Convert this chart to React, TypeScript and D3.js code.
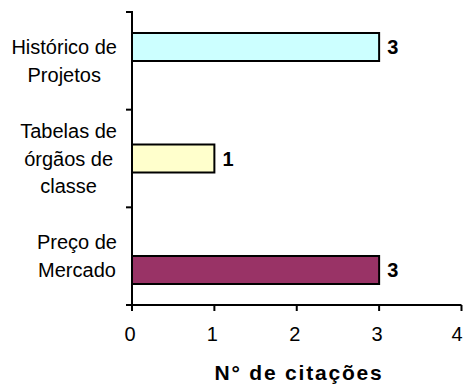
import React, { useEffect, useRef } from "react";
import * as d3 from "d3";

// Categories, top to bottom, each split into its printed lines
const categories: string[][] = [
  ["Histórico de", "Projetos"],
  ["Tabelas de", "órgãos de", "classe"],
  ["Preço de", "Mercado"],
];
const citations: number[] = [3, 1, 3];
const fills: string[] = ["#CCFFFF", "#FFFFCC", "#993366"];
const xTicks: number[] = [0, 1, 2, 3, 4];
const xTitle = "N° de citações";

const W = 463;
const H = 387;
const FONT = "'Liberation Sans', Arial, Helvetica, sans-serif";

export default function App() {
  const ref = useRef<SVGSVGElement | null>(null);

  useEffect(() => {
    const svg = d3.select(ref.current);
    svg.selectAll("*").remove();

    const plot = { left: 132, right: 461.5, top: 12, bottom: 305 };
    const keys = categories.map((c) => c.join(" "));

    const x = d3.scaleLinear().domain([0, 4]).range([plot.left, plot.right]);
    // category slots of the vertical axis
    const y = d3.scaleBand<string>().domain(keys).range([plot.top, plot.bottom]).padding(0);
    // bar centres
    const barY = d3.scalePoint<string>().domain(keys).range([47, 270]);
    const barH = 28;

    // bars
    svg
      .append("g")
      .selectAll("rect")
      .data(citations)
      .join("rect")
      .attr("x", x(0))
      .attr("y", (_, i) => (barY(keys[i]) as number) - barH / 2)
      .attr("width", (d) => x(d) - x(0))
      .attr("height", barH)
      .attr("fill", (_, i) => fills[i])
      .attr("stroke", "#000")
      .attr("stroke-width", 2);

    // value labels
    svg
      .append("g")
      .selectAll("text")
      .data(citations)
      .join("text")
      .attr("x", (d) => x(d) + 8)
      .attr("y", (_, i) => (barY(keys[i]) as number) + 7)
      .attr("font-family", FONT)
      .attr("font-size", 20)
      .attr("font-weight", "bold")
      .attr("fill", "#000")
      .text((d) => String(d));

    // vertical axis line and slot ticks
    const ax = svg.append("g").attr("stroke", "#000").attr("stroke-width", 2);
    ax.append("line")
      .attr("x1", plot.left)
      .attr("x2", plot.left)
      .attr("y1", plot.top - 1)
      .attr("y2", plot.bottom);
    const bounds = [...keys.map((k) => y(k) as number), plot.bottom];
    ax.selectAll("line.yt")
      .data(bounds)
      .join("line")
      .attr("class", "yt")
      .attr("x1", plot.left - 6)
      .attr("x2", plot.left)
      .attr("y1", (d) => d)
      .attr("y2", (d) => d);

    // horizontal axis line and ticks
    ax.append("line")
      .attr("x1", plot.left)
      .attr("x2", plot.right)
      .attr("y1", plot.bottom)
      .attr("y2", plot.bottom);
    ax.selectAll("line.xt")
      .data(xTicks)
      .join("line")
      .attr("class", "xt")
      .attr("x1", (d) => x(d))
      .attr("x2", (d) => x(d))
      .attr("y1", plot.bottom)
      .attr("y2", plot.bottom + 6);

    // tick labels
    svg
      .append("g")
      .selectAll("text")
      .data(xTicks)
      .join("text")
      .attr("x", (d, i) => (i === xTicks.length - 1 ? x(d) + 1 : x(d) - 2))
      .attr("y", 341)
      .attr("text-anchor", (_, i) => (i === xTicks.length - 1 ? "end" : "middle"))
      .attr("font-family", FONT)
      .attr("font-size", 20)
      .attr("fill", "#000")
      .text((d) => String(d));

    // category labels: lines centred within a block whose right edge is fixed
    const labelRight = 117;
    const lineH = 27.5;
    categories.forEach((lines, i) => {
      const cy = (y(keys[i]) as number) + y.bandwidth() / 2;
      const g = svg.append("g");
      const t = g
        .append("text")
        .attr("font-family", FONT)
        .attr("font-size", 20)
        .attr("fill", "#000")
        .attr("text-anchor", "middle");
      lines.forEach((ln, j) => {
        t.append("tspan")
          .attr("x", 0)
          .attr("y", cy + 7 + (j - (lines.length - 1) / 2) * lineH)
          .text(ln);
      });
      const node = t.node() as SVGTextElement;
      const bb = node.getBBox();
      g.attr("transform", `translate(${labelRight - (bb.x + bb.width)},0)`);
    });

    // axis title
    svg
      .append("text")
      .attr("x", 299)
      .attr("y", 380)
      .attr("text-anchor", "middle")
      .attr("font-family", FONT)
      .attr("font-size", 21)
      .attr("font-weight", "bold")
      .attr("letter-spacing", 1.8)
      .attr("fill", "#000")
      .text(xTitle);
  }, []);

  return (
    <svg
      ref={ref}
      width={W}
      height={H}
      style={{ position: "absolute", left: 0, top: 0, background: "#fff" }}
    />
  );
}
